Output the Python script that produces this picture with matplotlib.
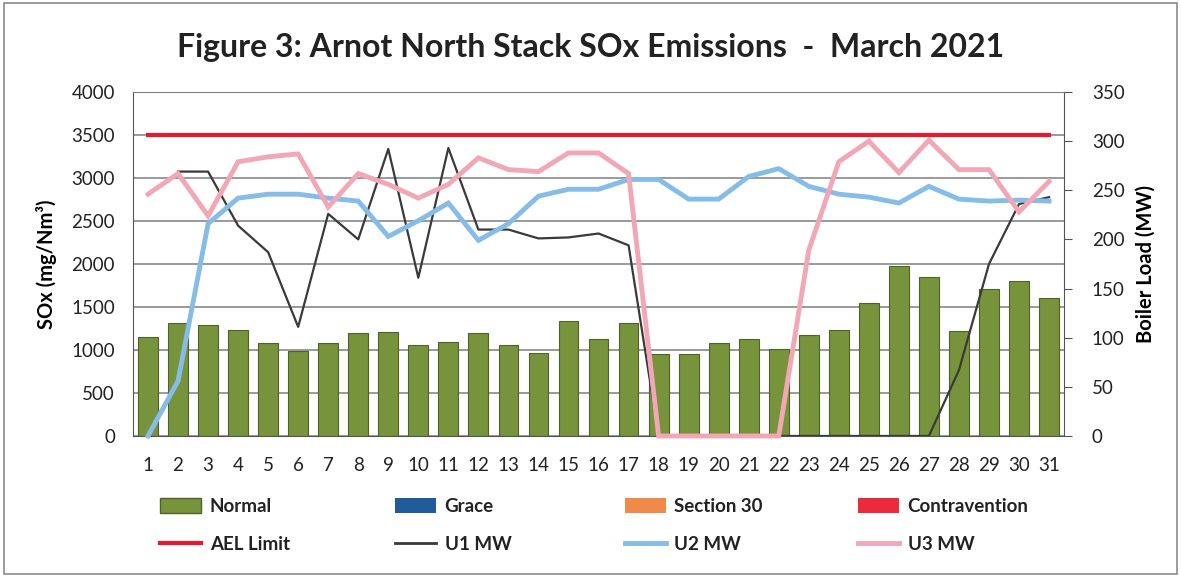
import matplotlib
matplotlib.use("Agg")
import matplotlib.pyplot as plt
from matplotlib.patches import Patch, Rectangle
from matplotlib.lines import Line2D
import numpy as np

plt.rcParams['font.family'] = ['Lato', 'DejaVu Sans']

# data
days = list(range(1, 32))
normal = [1155, 1310, 1290, 1233, 1078, 992, 1078, 1194, 1213, 1058, 1097, 1194, 1058, 961, 1341, 1124,
          1318, 949, 949, 1085, 1132, 1008, 1171, 1233, 1550, 1977, 1845, 1217, 1705, 1806, 1608]
ael_limit = [3500] * 31
u1_mw = [np.nan, 269, 269, 214, 187, 111, 226, 200, 292, 161, 293, 210, 210, 201, 202, 206,
         194, 0, 0, 0, 0, 0, 0, 0, 0, 0, 0, 67, 175, 236, 243]
u2_mw = [0, 56, 216, 242, 246, 246, 242, 239, 203, 219, 237, 199, 216, 244, 251, 251,
         261, 261, 241, 241, 264, 272, 254, 246, 243, 237, 254, 241, 239, 240, 239]
u3_mw = [246, 267, 224, 279, 284, 287, 233, 267, 256, 242, 256, 283, 271, 269, 288, 288,
         267, 0, 0, 0, 0, 0, 189, 279, 300, 268, 301, 271, 271, 228, 259]

green = '#77933C'
c_grace = '#1F5C99'
c_s30 = '#F08A4B'
c_contra = '#EA2B3C'
c_ael = '#E8192C'
c_u1 = '#3A3A3A'
c_u2 = '#86BCE8'
c_u3 = '#F2A7B6'

fig = plt.figure(figsize=(11.81, 5.77), dpi=100)
ax = fig.add_axes([0.1126, 0.2444, 0.7884, 0.5962])

ax.bar(days, normal, width=0.66, color=green, edgecolor='#4F6228', linewidth=0.8, zorder=2)
ax.plot(days, ael_limit, color=c_ael, lw=3, zorder=3)
ax.set_ylim(0, 4000)
ax.set_xlim(0.5, 31.5)
ax.set_yticks(range(0, 4001, 500))
ax.set_xticks(days)
ax.yaxis.grid(True, color='#7F7F7F', lw=1.1, zorder=0)
ax.set_axisbelow(True)
ax.tick_params(axis='both', length=0, labelsize=13.5, colors='#222222')
ax.tick_params(axis='x', pad=15)
ax.tick_params(axis='y', pad=13)
ax.set_ylabel('SOx (mg/Nm³)', fontsize=14.5, fontweight='bold', labelpad=10)
for s in ['left', 'bottom', 'right', 'top']:
    ax.spines[s].set_color('#555555')
ax.spines['top'].set_color('#7F7F7F')

ax2 = ax.twinx()
ax2.plot(days, u1_mw, color=c_u1, lw=1.6, zorder=3)
ax2.plot(days, u2_mw, color=c_u2, lw=3.5, zorder=4, solid_joinstyle='miter', clip_on=False)
ax2.plot(days, u3_mw, color=c_u3, lw=3.5, zorder=5, solid_joinstyle='miter', clip_on=False)
ax2.set_ylim(0, 350)
ax2.set_yticks(range(0, 351, 50))
ax2.tick_params(axis='y', length=6, direction='out', labelsize=13.5, pad=14,
                color='#555555', labelcolor='#222222')
ax2.set_ylabel('Boiler Load (MW)', fontsize=14.5, fontweight='bold', labelpad=8)
for s in ['left', 'bottom', 'right', 'top']:
    ax2.spines[s].set_visible(False)

fig.suptitle('Figure 3: Arnot North Stack SOx Emissions  -  March 2021', x=0.5, y=0.942,
             fontsize=23, fontweight='bold', color='#222222')

# legend: one small legend per column so columns sit at even spacing
columns = [
    ([Patch(facecolor=green, edgecolor='#4F6228'), Line2D([], [], color=c_ael, lw=3)], ['Normal', 'AEL Limit']),
    ([Patch(facecolor=c_grace), Line2D([], [], color=c_u1, lw=2)], ['Grace', 'U1 MW']),
    ([Patch(facecolor=c_s30), Line2D([], [], color=c_u2, lw=3.5)], ['Section 30', 'U2 MW']),
    ([Patch(facecolor=c_contra), Line2D([], [], color=c_u3, lw=3.5)], ['Contravention', 'U3 MW']),
]
col_x = [0.1355, 0.3345, 0.529, 0.7265]
for (h, l), x in zip(columns, col_x):
    fig.legend(h, l, loc='upper left', bbox_to_anchor=(x, 0.137), frameon=False,
               prop={'size': 13.5, 'weight': 'bold'}, labelcolor='#222222',
               handlelength=2.2, handleheight=0.8, handletextpad=0.45,
               labelspacing=1.1, borderpad=0, borderaxespad=0)

fig.add_artist(Rectangle((0.003, 0.005), 0.994, 0.99, transform=fig.transFigure,
                         fill=False, ec='#8A8A8A', lw=1.2))

fig.savefig('out.png', dpi=100)
